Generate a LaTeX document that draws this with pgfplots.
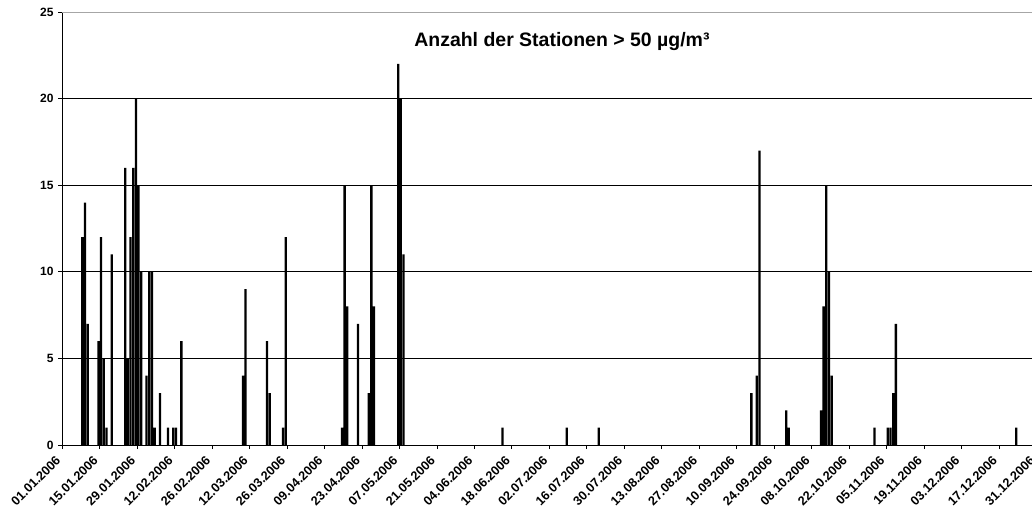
\documentclass[border=0pt]{standalone}
\usepackage{pgfplots}
\usepackage{pgfplotstable}
\pgfplotsset{compat=1.18}
\usepackage{fontspec}
\setmainfont{Liberation Sans}

\pgfplotstableread{
day val
7.5 12
8.5 14
9.5 7
13.5 6
14.5 12
15.5 5
16.5 1
18.5 11
23.5 16
24.5 5
25.5 12
26.5 16
27.5 20
28.5 15
29.5 10
31.5 4
32.5 10
33.5 10
34.5 1
36.5 3
39.5 1
41.5 1
42.5 1
44.5 6
67.5 4
68.5 9
76.5 6
77.5 3
82.5 1
83.5 12
104.5 1
105.5 15
106.5 8
110.5 7
114.5 3
115.5 15
116.5 8
125.5 22
126.5 20
127.5 11
164.5 1
188.5 1
200.5 1
257.5 3
259.5 4
260.5 17
270.5 2
271.5 1
283.5 2
284.5 8
285.5 15
286.5 10
287.5 4
303.5 1
308.5 1
309.5 1
310.5 3
311.5 7
356.5 1
}\datatable

\begin{document}
\begin{tikzpicture}
\begin{axis}[
  at={(0,0)}, anchor=origin,
  x=2.007pt, y=12.99pt,
  xmin=0, xmax=368, ymin=0, ymax=25,
  axis x line*=bottom, axis y line*=left,
  axis line style={black, line width=0.75pt},
  xtick={0,14,...,364},
  xticklabels={01.01.2006,15.01.2006,29.01.2006,12.02.2006,26.02.2006,12.03.2006,26.03.2006,09.04.2006,23.04.2006,07.05.2006,21.05.2006,04.06.2006,18.06.2006,02.07.2006,16.07.2006,30.07.2006,13.08.2006,27.08.2006,10.09.2006,24.09.2006,08.10.2006,22.10.2006,05.11.2006,19.11.2006,03.12.2006,17.12.2006,31.12.2006},
  ytick={0,5,10,15,20},
  extra y ticks={25},
  extra y tick style={grid style={gray!70, line width=0.75pt}},
  ymajorgrids,
  grid style={black, line width=0.6pt},
  tick align=outside, major tick length=3pt,
  tick style={black, line width=0.6pt},
  xtick pos=bottom, ytick pos=left,
  /pgf/number format/assume math mode=true,
  xticklabel style={xshift=-5.5pt, yshift=-3pt, rotate=45, anchor=north east, font=\bfseries\fontsize{9.5}{11}\selectfont, inner sep=1pt},
  yticklabel style={font=\bfseries\fontsize{9}{10}\selectfont},
  clip=false,
]
\addplot[ybar, bar width=0.85, fill=black, draw=none] table[x=day,y=val]{\datatable};
\node[font=\bfseries\fontsize{14.6}{16}\selectfont] at (axis cs:186.7,23.3) {Anzahl der Stationen > 50 µg/m³};
\end{axis}
\pgfresetboundingbox
\useasboundingbox (-46.725pt,-50.25pt) rectangle (727.275pt,333.75pt);
\end{tikzpicture}
\end{document}
